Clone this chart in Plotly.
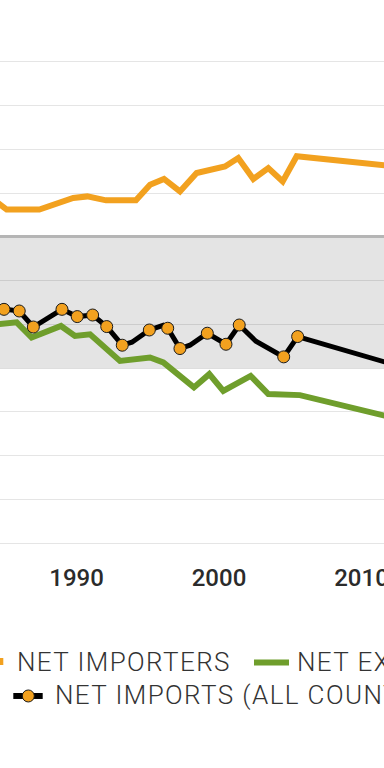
import plotly.graph_objects as go

# ---- data ----
importers_x = [1984.10, 1985.10, 1987.39, 1989.77, 1990.76, 1992.07, 1994.17, 1995.16, 1996.14,
               1997.26, 1998.43, 2000.42, 2001.35, 2002.41, 2003.46, 2004.47, 2005.45, 2012.70]
importers_y = [4.36, 3.11, 3.11, 4.44, 4.62, 4.17, 4.17, 5.96, 6.61,
               5.19, 7.29, 8.04, 9.00, 6.61, 7.86, 6.33, 9.20, 8.00]

exporters_x = [1983.79, 1985.80, 1986.85, 1988.91, 1989.89, 1990.95, 1993.05, 1995.16, 1996.09,
               1998.24, 1999.32, 2000.30, 2002.22, 2003.46, 2005.68, 2012.70]
exporters_y = [-10.10, -9.76, -11.50, -10.18, -11.32, -11.13, -14.17, -13.78, -14.35,
               -17.20, -15.68, -17.59, -15.88, -17.96, -18.08, -20.85]

net_x = [1983.91, 1984.91, 1985.98, 1986.97, 1988.98, 1990.05, 1991.13, 1992.12, 1993.21, 1993.89,
         1995.11, 1996.09, 1996.40, 1997.26, 1997.96, 1999.18, 2000.49, 2001.42, 2002.59,
         2004.54, 2005.52, 2012.70]
net_y = [-8.05, -8.28, -8.47, -10.30, -8.28, -9.11, -8.93, -10.25, -12.38, -12.04,
         -10.64, -10.10, -10.44, -12.76, -12.38, -11.01, -12.27, -10.07, -11.93,
         -13.71, -11.39, -14.80]
net_marker = [1, 1, 1, 1, 1, 1, 1, 1, 1, 0,
              1, 0, 1, 1, 0, 1, 1, 1, 0,
              1, 1, 0]

x_ticks = [1990, 2000, 2010]
x_tick_labels = ["1990", "2000", "2010"]
legend_labels = ["NET IMPORTERS", "NET EXPORTERS", "NET IMPORTS (ALL COUNTRIES)"]

ORANGE = "#F2A11F"
GREEN = "#6F9E2C"
BLACK = "#000000"

W, H = 384, 768
T, B = 53.4, 552.5  # plot area top/bottom in px
PH = B - T

fig = go.Figure()
fig.add_trace(go.Scatter(x=importers_x, y=importers_y, mode="lines",
                         line=dict(color=ORANGE, width=6), name=legend_labels[0]))
fig.add_trace(go.Scatter(x=exporters_x, y=exporters_y, mode="lines",
                         line=dict(color=GREEN, width=6), name=legend_labels[1]))
fig.add_trace(go.Scatter(x=net_x, y=net_y, mode="lines+markers",
                         line=dict(color=BLACK, width=5),
                         marker=dict(color=ORANGE, opacity=1,
                                     size=[12 if m else 0 for m in net_marker],
                                     line=dict(color="#1a1a1a", width=[1 if m else 0 for m in net_marker])),
                         name=legend_labels[2]))

def px_x(p):
    return p / W

def px_y(p):
    return (B - p) / PH

shapes = [
    dict(type="rect", xref="paper", yref="y", x0=0, x1=1, y0=-15, y1=0,
         fillcolor="#E4E4E4", line=dict(width=0), layer="below"),
    # legend symbols
    dict(type="line", xref="paper", yref="paper", x0=px_x(-32), x1=px_x(3.3),
         y0=px_y(662), y1=px_y(662), line=dict(color=ORANGE, width=7)),
    dict(type="line", xref="paper", yref="paper", x0=px_x(254), x1=px_x(289),
         y0=px_y(663), y1=px_y(663), line=dict(color=GREEN, width=6)),
    dict(type="line", xref="paper", yref="paper", x0=px_x(13.3), x1=px_x(42.7),
         y0=px_y(696.5), y1=px_y(696.5), line=dict(color=BLACK, width=6)),
    dict(type="circle", xref="paper", yref="paper", x0=px_x(22.3), x1=px_x(34.3),
         y0=px_y(702.5), y1=px_y(690.5), fillcolor=ORANGE, line=dict(color="#1a1a1a", width=1)),
]

LFONT = dict(family="Roboto, sans-serif", size=26, color="#333333", weight=300)

def spaced(t):
    return '<span style="letter-spacing:1.4px">' + t + '</span>'

annotations = [
    dict(text=spaced(legend_labels[0]), xref="paper", yref="paper", x=px_x(15), y=px_y(662.5),
         xanchor="left", yanchor="middle", showarrow=False, font=LFONT),
    dict(text=spaced(legend_labels[1]), xref="paper", yref="paper", x=px_x(295), y=px_y(662.5),
         xanchor="left", yanchor="middle", showarrow=False, font=LFONT),
    dict(text=spaced(legend_labels[2]), xref="paper", yref="paper", x=px_x(53), y=px_y(696),
         xanchor="left", yanchor="middle", showarrow=False, font=LFONT),
]

fig.update_layout(
    width=W, height=H,
    margin=dict(l=0, r=0, t=T, b=H - B, pad=0, autoexpand=False),
    paper_bgcolor="white", plot_bgcolor="white",
    showlegend=False,
    shapes=shapes, annotations=annotations,
    xaxis=dict(range=[1984.63, 2011.58], tickvals=x_ticks, ticktext=x_tick_labels,
               showgrid=False, zeroline=False, showline=False, ticks="",
               ticklabeloverflow="allow", ticklabelstandoff=9,
               tickfont=dict(family="Roboto, sans-serif", size=24, color="#2b2b2b", weight=500)),
    yaxis=dict(range=[-36, 21], dtick=5, tick0=0, showticklabels=False,
               showgrid=True, gridcolor="rgba(0,0,0,0.1)", gridwidth=1.2,
               zeroline=True, zerolinecolor="#B5B5B5", zerolinewidth=3,
               showline=False, ticks=""),
)

fig.write_html("out.html", config={"displayModeBar": False},
               post_script="document.body.style.margin='0';")
